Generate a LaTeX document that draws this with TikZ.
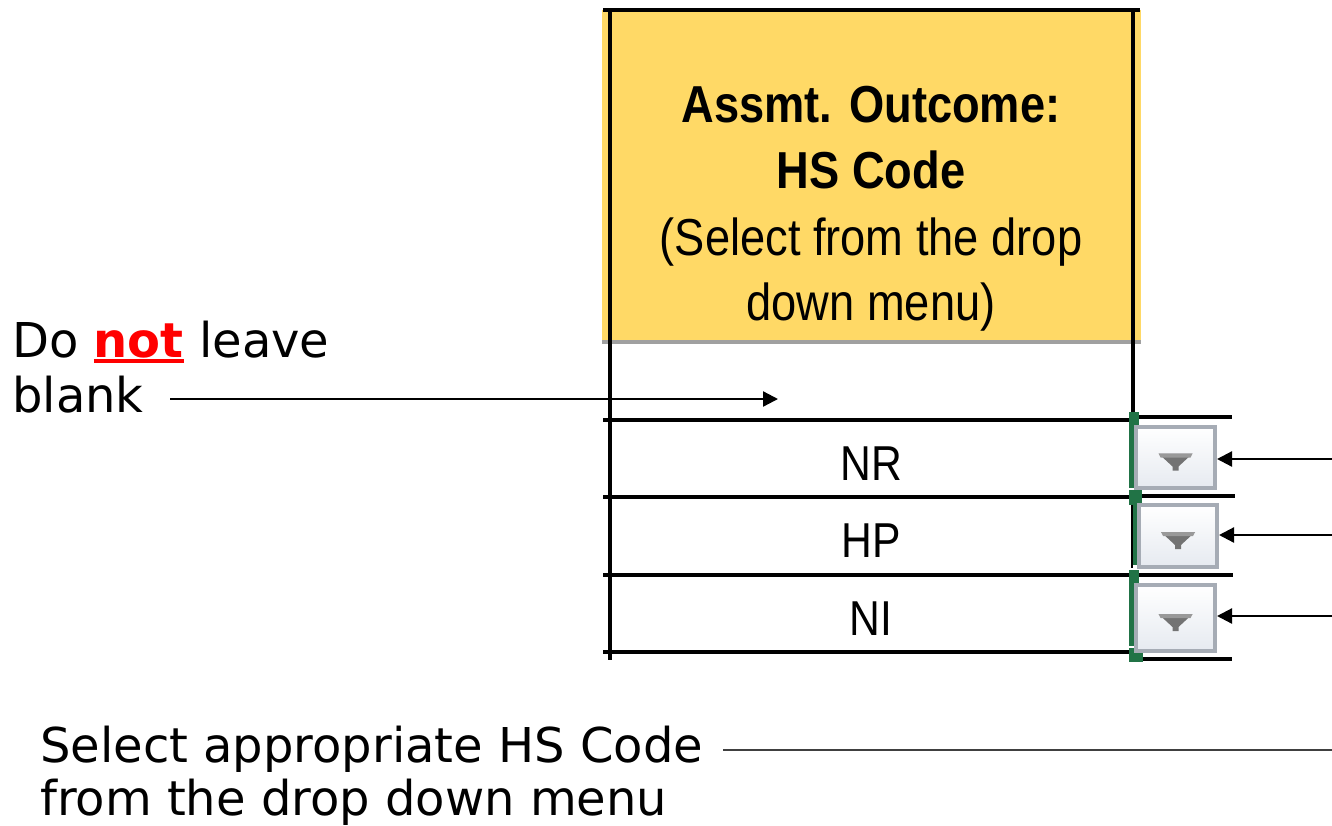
\documentclass[tikz,border=0pt]{standalone}
\usepackage{fontspec}
\setmainfont{DejaVu Sans}
\newfontfamily\xlfont[FakeStretch=0.87]{Liberation Sans}
\usetikzlibrary{arrows.meta}
\definecolor{hdr}{RGB}{255,217,102}
\definecolor{xlgreen}{RGB}{33,115,70}
\definecolor{ddborder}{RGB}{166,172,181}
\definecolor{ddbot}{RGB}{230,234,240}
\definecolor{hdrline}{RGB}{160,160,160}
\newcommand\redul[1]{\setbox0\hbox{#1}\rlap{\textcolor{red}{\rule[-6pt]{\wd0}{4pt}}}\box0\relax}
\tikzset{
  lbl/.style={inner sep=0pt, anchor=base west, font=\fontsize{48}{55}\selectfont},
  hdrtxt/.style={inner sep=0pt, anchor=base, font=\xlfont\fontsize{52}{66}\selectfont},
  celltxt/.style={inner sep=0pt, anchor=base, font=\xlfont\fontsize{49}{60}\selectfont},
  grid/.style={line width=3.5pt, black},
  ddbox/.style={draw=ddborder, line width=4pt, top color=white, bottom color=ddbot, inner sep=0pt},
  arr/.style={line width=2.3pt, -{Triangle[length=15pt,width=15pt]}},
  thinline/.style={line width=1.6pt, black!75}
}
\begin{document}
\begin{tikzpicture}[x=1pt,y=-1pt]
\useasboundingbox (0,0) rectangle (1332,825);
% header
\fill[hdr] (602,10) rectangle (1141,342);
\draw[grid] (603,10) -- (1140,10);
\draw[line width=3.5pt, hdrline] (602,342) -- (1141,342);
\node[hdrtxt, font=\xlfont\bfseries\fontsize{52}{66}\selectfont] (h1) at (871,122) {Assmt. Outcome:};
\node[hdrtxt, font=\xlfont\bfseries\fontsize{52}{66}\selectfont] (h2) at (871,188) {HS Code};
\node[hdrtxt] (h3) at (871,255) {(Select from the drop};
\node[hdrtxt] (h4) at (871,320) {down menu)};
% table grid
\draw[grid] (610,8) -- (610,660);
\draw[grid] (1133,8) -- (1133,420);
\foreach \y in {420,497,575,652} \draw[grid] (603,\y) -- (1132,\y);
\draw[grid] (1139,417) -- (1232,417);
\draw[grid] (1139,496) -- (1235,496);
\draw[grid] (1139,575) -- (1233,575);
\draw[grid] (1139,659) -- (1232,659);
\draw[line width=2pt] (1132,504) -- (1132,568);
% green selection edge
\fill[xlgreen] (1129,412) rectangle (1139,488);
\fill[xlgreen] (1129,490) rectangle (1142,505);
\fill[xlgreen] (1133,505) rectangle (1137,565);
\fill[xlgreen] (1129,570) rectangle (1139,646);
\fill[xlgreen] (1129,648) rectangle (1143,662);
% cell values
\node[celltxt] (nr) at (871,480) {NR};
\node[celltxt] (hp) at (871,557) {HP};
\node[celltxt] (ni) at (871,635) {NI};
% dropdown buttons
\node[ddbox, minimum width=79pt, minimum height=61pt] (dd1) at (1175.5,457.5) {};
\node[ddbox, minimum width=78pt, minimum height=62pt] (dd2) at (1178,536) {};
\node[ddbox, minimum width=79pt, minimum height=66pt] (dd3) at (1175.5,618) {};
\foreach \d in {dd1,dd2,dd3}{
  \fill[black!55] ([shift={(-17,-4)}]\d.center) -- ([shift={(17,-4)}]\d.center) -- ([shift={(3,9)}]\d.center) -- ([shift={(3,13)}]\d.center) -- ([shift={(-3,13)}]\d.center) -- ([shift={(-3,9)}]\d.center) -- cycle;
  \fill[black!40] ([shift={(-17,-4)}]\d.center) -- ([shift={(17,-4)}]\d.center) -- ([shift={(15,0)}]\d.center) -- ([shift={(-15,0)}]\d.center) -- cycle;
}
% right arrows
\coordinate (r1) at (1332,459);
\coordinate (r2) at (1332,535);
\coordinate (r3) at (1332,616);
\draw[arr] (r1) -- (r1 -| dd1.east);
\draw[arr] (r2) -- (r2 -| dd2.east);
\draw[arr] (r3) -- (r3 -| dd3.east);
% left note
\node[lbl] (do) at (12,357) {Do \redul{\textcolor{red}{\bfseries not}} leave};
\node[lbl] (blank) at (12,412) {blank};
\coordinate (bs) at (170,399);
\coordinate (be) at (778,399);
\draw[arr] (bs) -- (be);
% bottom note
\node[lbl] (sel1) at (40,762) {Select appropriate HS Code};
\node[lbl] (sel2) at (40,815) {from the drop down menu};
\coordinate (sl) at (723,750);
\coordinate (sr) at (1332,750);
\draw[thinline] (sl) -- (sr);
\end{tikzpicture}
\end{document}
